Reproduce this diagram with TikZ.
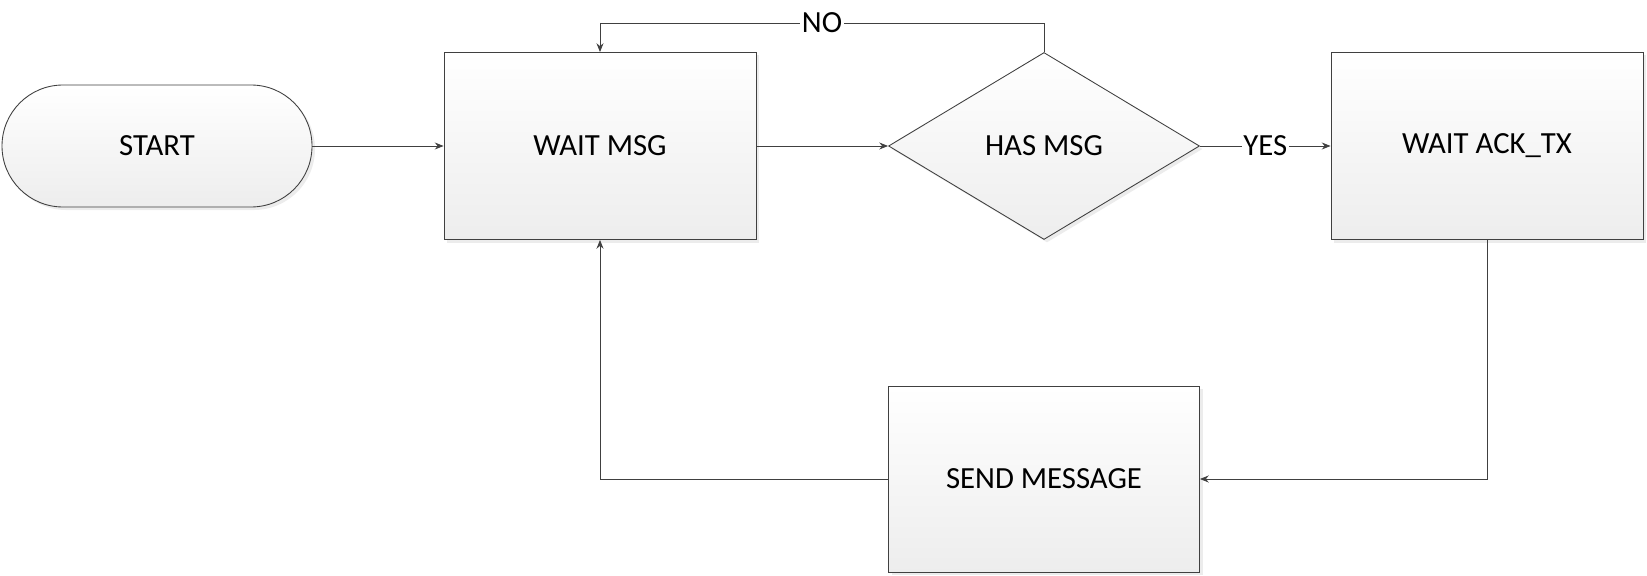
\documentclass[tikz,border=0pt]{standalone}
\usepackage{fontspec}
\setmainfont{Carlito}
\usetikzlibrary{shapes.geometric,arrows.meta,shadows}

\begin{document}
\begin{tikzpicture}[>={Stealth[length=5pt,width=4pt]}, line width=0.5pt]

      \useasboundingbox (0,0) rectangle (32.94,-11.52);

      \begin{scope}[every node/.style={draw=black!75, top color=white, bottom color=black!7,
          drop shadow={opacity=0.15, shadow xshift=0.06cm, shadow yshift=-0.06cm},
          font=\fontsize{17.5}{20}\selectfont, inner sep=0pt}]
        \node[rectangle, rounded corners=1.22cm, minimum width=6.2cm, minimum height=2.44cm] (start) at (3.14,-2.92) {START};
        \node[rectangle, minimum width=6.24cm, minimum height=3.74cm] (wait) at (12.0,-2.92) {WAIT MSG};
        \node[diamond, aspect=1.66, minimum width=6.22cm, minimum height=3.74cm] (has) at (20.88,-2.92) {HAS MSG};
        \node[rectangle, minimum width=6.24cm, minimum height=3.74cm] (ack) at (29.74,-2.92) {WAIT ACK\_TX};
        \node[rectangle, minimum width=6.22cm, minimum height=3.72cm] (send) at (20.88,-9.58) {SEND MESSAGE};
      \end{scope}

      \coordinate (no) at (12.0,-0.46);

      \begin{scope}[every node/.style={fill=white, inner sep=1pt, font=\fontsize{17.5}{20}\selectfont}]
        \begin{scope}[draw=black!75]
          \draw[->] (start) -- (wait);
          \draw[->] (wait) -- (has);
          \draw[->] (has.east) -- node {YES} (ack.west);
          \draw (has.north) |- node[pos=0.75] {NO} (no);
          \draw[->] (no) -- (wait.north);
          \draw[->] (ack.south) |- (send.east);
          \draw[->] (send.west) -| (wait.south);
        \end{scope}
      \end{scope}

    \end{tikzpicture}
\end{document}
